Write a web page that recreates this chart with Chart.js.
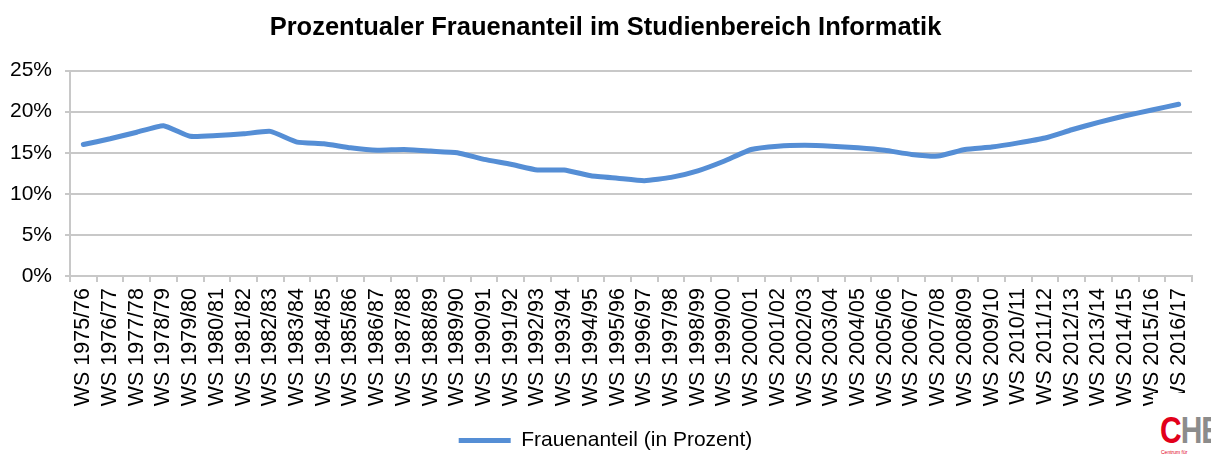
<!DOCTYPE html>
<html>
<head>
<meta charset="utf-8">
<script src="https://cdn.jsdelivr.net/npm/chart.js@4"></script>
<style>
  html, body { margin: 0; padding: 0; background: #fff; }
  #wrap { position: relative; width: 1211px; height: 456px; }
  #logo {
    position: absolute; left: 1153px; top: 393px; width: 58px; height: 63px;
    background: #fff; font-family: "Liberation Sans Narrow", "Liberation Sans", Arial, sans-serif;
  }
  #logo .big { position: absolute; left: 7px; top: 20px; font-size: 30px; line-height: 30px; font-weight: bold; letter-spacing: -1px; transform: scaleY(1.2); transform-origin: top left; }
  #logo .c { color: #e2001a; }
  #logo .he { color: #8c8c8c; }
  #logo .small { position: absolute; left: 8px; top: 56px; font-size: 5px; color: #e2001a; }
</style>
</head>
<body>
<div id="wrap">
  <canvas id="grafico" width="1211" height="456"></canvas>
  <div id="logo"><span class="big"><span class="c">C</span><span class="he">HE</span></span><span class="small">Centrum für</span></div>
</div>
<script>

const semestre = [
    "WS 1975/76", "WS 1976/77", "WS 1977/78", "WS 1978/79", "WS 1979/80",
    "WS 1980/81", "WS 1981/82", "WS 1982/83", "WS 1983/84", "WS 1984/85",
    "WS 1985/86", "WS 1986/87", "WS 1987/88", "WS 1988/89", "WS 1989/90",
    "WS 1990/91", "WS 1991/92", "WS 1992/93", "WS 1993/94", "WS 1994/95",
    "WS 1995/96", "WS 1996/97", "WS 1997/98", "WS 1998/99", "WS 1999/00",
    "WS 2000/01", "WS 2001/02", "WS 2002/03", "WS 2003/04", "WS 2004/05",
    "WS 2005/06", "WS 2006/07", "WS 2007/08", "WS 2008/09", "WS 2009/10",
    "WS 2010/11", "WS 2011/12", "WS 2012/13", "WS 2013/14", "WS 2014/15",
    "WS 2015/16", "WS 2016/17"
];

// Anteil in Prozent
const frauenanteil = [
    16.0, 16.7, 17.5, 18.3, 17.0,
    17.1, 17.3, 17.6, 16.3, 16.1,
    15.6, 15.3, 15.4, 15.2, 15.0,
    14.2, 13.6, 12.9, 12.9, 12.2,
    11.9, 11.6, 12.0, 12.8, 14.0,
    15.4, 15.8, 15.9, 15.8, 15.6,
    15.3, 14.8, 14.6, 15.4, 15.7,
    16.2, 16.8, 17.8, 18.7, 19.5,
    20.2, 20.9
];

const yTicks = [0, 5, 10, 15, 20, 25];

const fonte = "'Liberation Sans', Arial, sans-serif";
const cinza = "#c8c8c8";

const ctx = document.getElementById("grafico");

new Chart(ctx, {

    type: "line",

    data: {
        labels: semestre,
        datasets: [{
            label: "Frauenanteil (in Prozent)",
            data: frauenanteil,
            borderColor: "#558ed5",
            backgroundColor: "#558ed5",
            borderWidth: 5,
            borderCapStyle: "round",
            borderJoinStyle: "round",
            pointRadius: 0,
            tension: 0.15
        }]
    },

    options: {
        responsive: false,
        animation: false,
        layout: {
            padding: 0
        },
        plugins: {
            title: {
                display: true,
                text: "Prozentualer Frauenanteil im Studienbereich Informatik",
                color: "#000",
                font: { family: fonte, size: 25.5, weight: "bold" },
                padding: { top: 13, bottom: 27 }
            },
            legend: {
                position: "bottom",
                maxHeight: 26,
                labels: {
                    color: "#000",
                    font: { family: fonte, size: 21 },
                    boxWidth: 52,
                    boxHeight: 5,
                    padding: 0,
                    generateLabels(chart) {
                        const ds = chart.data.datasets[0];
                        return [{
                            text: ds.label,
                            fillStyle: ds.borderColor,
                            strokeStyle: ds.borderColor,
                            lineWidth: 0,
                            datasetIndex: 0
                        }];
                    }
                }
            },
            tooltip: { enabled: false }
        },
        scales: {
            x: {
                offset: true,
                afterFit(axis) {
                    axis.height = 154;
                },
                grid: {
                    offset: true,
                    drawOnChartArea: false,
                    drawTicks: true,
                    tickLength: 6,
                    color: cinza,
                    lineWidth: 2
                },
                border: { color: cinza, width: 2 },
                ticks: {
                    color: "#000",
                    font: { family: fonte, size: 21.5 },
                    autoSkip: false,
                    minRotation: 90,
                    maxRotation: 90,
                    padding: 6
                }
            },
            y: {
                min: 0,
                max: 25,
                afterBuildTicks(axis) {
                    axis.ticks = yTicks.map(v => ({ value: v }));
                },
                afterFit(axis) {
                    axis.width = 70;
                },
                grid: {
                    color: cinza,
                    lineWidth: 2,
                    tickLength: 5
                },
                border: { color: cinza, width: 2 },
                ticks: {
                    color: "#000",
                    font: { family: fonte, size: 21 },
                    padding: 13,
                    callback: v => v + "%"
                }
            },
            // leerer Rand rechts, damit Titel und Legende mittig bleiben
            rand: {
                type: "linear",
                position: "right",
                afterFit(axis) {
                    axis.width = 19;
                },
                grid: { drawOnChartArea: false, drawTicks: false },
                border: { display: false },
                ticks: { display: false }
            }
        }
    }

});

</script>
</body>
</html>
